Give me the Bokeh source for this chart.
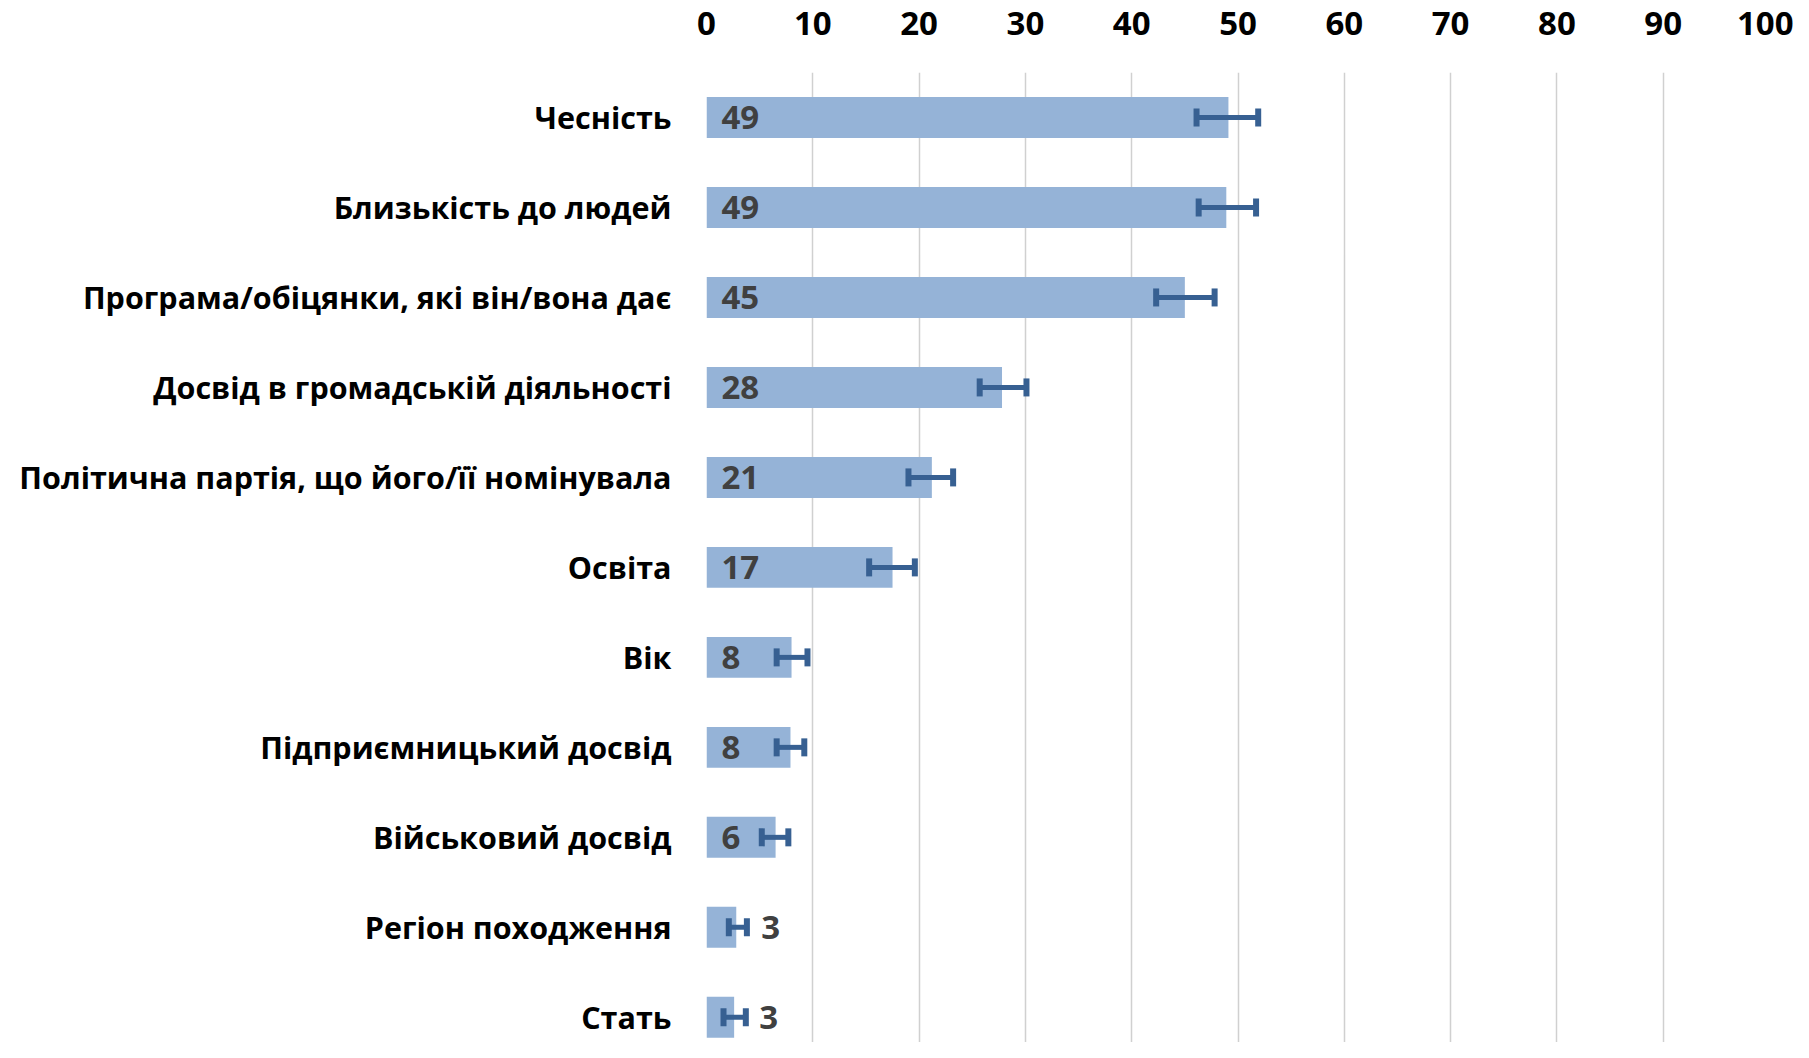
from bokeh.plotting import figure
from bokeh.models import Range1d, FixedTicker, ColumnDataSource
from bokeh.embed import file_html
from bokeh.resources import INLINE
from bokeh.core.properties import value

categories = [
    "Чесність",
    "Близькість до людей",
    "Програма/обіцянки, які він/вона дає",
    "Досвід в громадській діяльності",
    "Політична партія, що його/її номінувала",
    "Освіта",
    "Вік",
    "Підприємницький досвід",
    "Військовий досвід",
    "Регіон походження",
    "Стать",
]
values = [49.1, 48.9, 45.0, 27.8, 21.2, 17.5, 8.0, 7.9, 6.5, 2.8, 2.6]
err_low = [46.1, 46.3, 42.3, 25.7, 19.0, 15.3, 6.6, 6.6, 5.2, 2.1, 1.6]
err_high = [51.9, 51.7, 47.8, 30.1, 23.2, 19.6, 9.5, 9.2, 7.7, 3.8, 3.7]
value_labels = ["49", "49", "45", "28", "21", "17", "8", "8", "6", "3", "3"]
x_ticks = [0, 10, 20, 30, 40, 50, 60, 70, 80, 90, 100]

FONT = "Open Sans"
BAR_COLOR = "#95B3D7"
ERR_COLOR = "#376092"

n = len(categories)
ypos = list(range(n))

p = figure(width=1793, height=1042, output_backend="svg", toolbar_location=None,
           x_range=Range1d(0, 100), y_range=Range1d(10.28, -0.5),
           x_axis_location="above",
           min_border_left=706, min_border_right=24, min_border_top=72, min_border_bottom=0)
p.outline_line_color = None
p.background_fill_color = "white"
p.border_fill_color = "white"

# x axis (top)
p.xaxis.ticker = FixedTicker(ticks=x_ticks)
p.xaxis.axis_line_color = None
p.xaxis.major_tick_line_color = None
p.xaxis.minor_tick_line_color = None
p.xaxis.major_label_text_font = FONT
p.xaxis.major_label_text_font_style = "bold"
p.xaxis.major_label_text_font_size = "33px"
p.xaxis.major_label_text_color = "#000000"
p.xaxis.major_label_standoff = 32

p.xgrid.ticker = FixedTicker(ticks=x_ticks)
p.xgrid.grid_line_color = "#D0D0D0"
p.xgrid.grid_line_width = 1.5
p.ygrid.visible = False

# y axis (categories)
p.yaxis.ticker = FixedTicker(ticks=ypos)
p.yaxis.major_label_overrides = {i: c for i, c in enumerate(categories)}
p.yaxis.axis_line_color = None
p.yaxis.major_tick_line_color = None
p.yaxis.minor_tick_line_color = None
p.yaxis.major_label_text_font = FONT
p.yaxis.major_label_text_font_style = "bold"
p.yaxis.major_label_text_font_size = "30.5px"
p.yaxis.major_label_text_color = "#000000"
p.yaxis.major_label_standoff = 29

src = ColumnDataSource(dict(y=ypos, v=values, lo=err_low, hi=err_high, lab=value_labels,
                            ylo=[y - 0.1 for y in ypos], yhi=[y + 0.1 for y in ypos]))

p.hbar(y="y", left=0, right="v", height=0.455, source=src,
       fill_color=BAR_COLOR, line_color=None)

p.segment(x0="lo", y0="y", x1="hi", y1="y", source=src,
          line_color=ERR_COLOR, line_width=5)
p.segment(x0="lo", y0="ylo", x1="lo", y1="yhi", source=src,
          line_color=ERR_COLOR, line_width=6)
p.segment(x0="hi", y0="ylo", x1="hi", y1="yhi", source=src,
          line_color=ERR_COLOR, line_width=6)

inside = [i for i in range(n) if values[i] >= 5]
outside = [i for i in range(n) if values[i] < 5]
src_in = ColumnDataSource(dict(x=[0] * len(inside), y=[ypos[i] for i in inside],
                               lab=[value_labels[i] for i in inside]))
src_out = ColumnDataSource(dict(x=[values[i] for i in outside], y=[ypos[i] for i in outside],
                                lab=[value_labels[i] for i in outside]))
for s, off in ((src_in, 15), (src_out, 25)):
    p.text(x="x", y="y", text="lab", source=s, x_offset=off,
           text_font=value(FONT), text_font_style="bold", text_font_size="33px",
           text_color="#404040", text_baseline="middle", text_align="left")

open("out.html", "w").write(file_html(p, INLINE))
